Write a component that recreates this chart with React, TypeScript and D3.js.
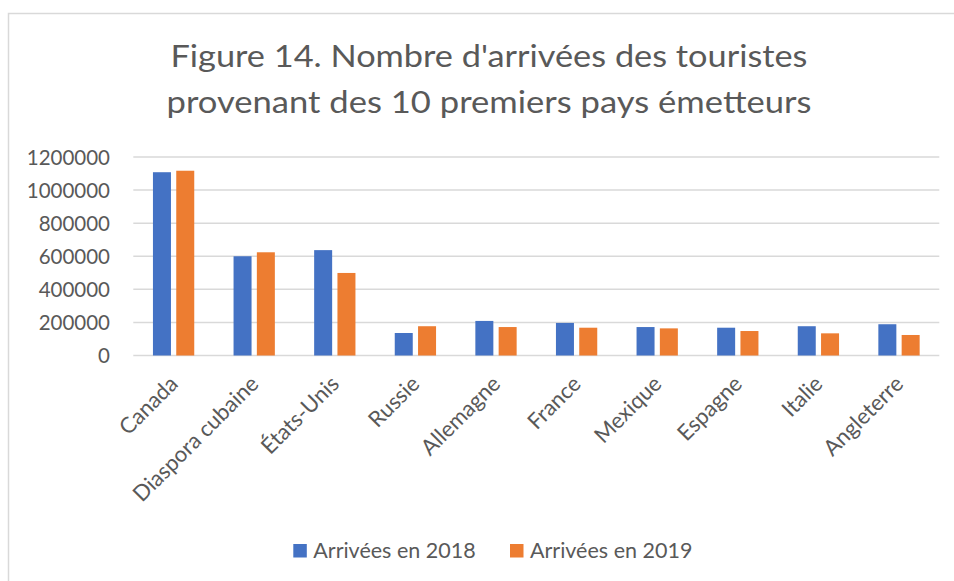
import React from "react";
import * as d3 from "d3";

const categories = [
  "Canada",
  "Diaspora cubaine",
  "États-Unis",
  "Russie",
  "Allemagne",
  "France",
  "Mexique",
  "Espagne",
  "Italie",
  "Angleterre",
];
const arrivals2018 = [1108000, 600000, 637000, 136000, 209000, 197000, 172000, 168000, 177000, 189000];
const arrivals2019 = [1117000, 624000, 499000, 177000, 172000, 168000, 164000, 148000, 134000, 124000];
const seriesNames = ["Arrivées en 2018", "Arrivées en 2019"];
const seriesColors = ["#4472C4", "#ED7D31"];
const yTicks = [0, 200000, 400000, 600000, 800000, 1000000, 1200000];
const titleLines = [
  "Figure 14. Nombre d'arrivées des touristes",
  "provenant des 10 premiers pays émetteurs",
];

const W = 954;
const H = 581;
const FONT = "Lato, 'Open Sans', sans-serif";
const TEXT = "#595959";
const GRID = "#d9d9d9";

export default function App() {
  const plotLeft = 133.3;
  const plotRight = 939.3;
  const plotTop = 157;
  const plotBottom = 355.5;

  const x0 = d3
    .scaleBand<string>()
    .domain(categories)
    .range([plotLeft, plotRight])
    .paddingInner(0.4876)
    .paddingOuter(0.2438);
  const x1 = d3
    .scaleBand<string>()
    .domain(seriesNames)
    .range([0, x0.bandwidth()])
    .paddingInner(0.2275);
  const y = d3.scaleLinear().domain([0, 1200000]).range([plotBottom, plotTop]);

  const series = [arrivals2018, arrivals2019];
  const titleWidths = [637, 645];

  return (
    <svg
      width={W}
      height={H}
      style={{ position: "absolute", left: 0, top: 0, display: "block", background: "#fff" }}
      fontFamily={FONT}
    >
      <rect x={8.5} y={13.5} width={1200} height={1200} fill="#fff" stroke={GRID} strokeWidth={1.5} />

      {titleLines.map((t, i) => (
        <text
          key={i}
          x={489}
          y={67 + i * 45.5}
          textAnchor="middle"
          fontSize={31}
          fill={TEXT}
          textLength={titleWidths[i]}
          lengthAdjust="spacingAndGlyphs"
        >
          {t}
        </text>
      ))}

      {yTicks.map((v) => (
        <g key={v}>
          <line x1={plotLeft} x2={plotRight} y1={y(v)} y2={y(v)} stroke={GRID} strokeWidth={1.5} />
          <text x={110} y={y(v) + 7.6} textAnchor="end" fontSize={20.5} fill={TEXT}>
            {v}
          </text>
        </g>
      ))}

      {categories.map((c, i) => (
        <g key={c}>
          {series.map((s, j) => (
            <rect
              key={j}
              x={(x0(c) as number) + (x1(seriesNames[j]) as number)}
              y={y(s[i])}
              width={x1.bandwidth()}
              height={plotBottom - y(s[i])}
              fill={seriesColors[j]}
            />
          ))}
        </g>
      ))}

      {categories.map((c) => {
        const cx = (x0(c) as number) + x0.bandwidth() / 2;
        return (
          <text
            key={c}
            transform={`translate(${cx},${plotBottom}) rotate(-45)`}
            x={-17}
            y={25}
            textAnchor="end"
            fontSize={22}
            fill={TEXT}
          >
            {c}
          </text>
        );
      })}

      {seriesNames.map((n, j) => {
        const lx = [293.3, 510][j];
        return (
          <g key={n}>
            <rect x={lx} y={544} width={13.5} height={13.5} fill={seriesColors[j]} />
            <text x={lx + 20} y={558} fontSize={21.5} fill={TEXT}>
              {n}
            </text>
          </g>
        );
      })}
    </svg>
  );
}
